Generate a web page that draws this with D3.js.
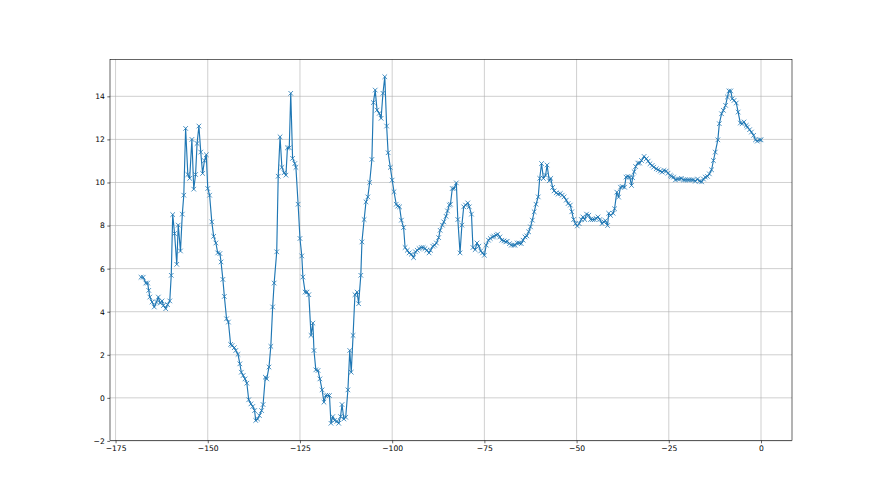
<!DOCTYPE html>
<html>
<head>
<meta charset="utf-8">
<script src="https://cdn.jsdelivr.net/npm/d3@7"></script>
<style>
html,body{margin:0;padding:0;background:#fff;}
svg{display:block;}
</style>
</head>
<body>
<svg id="chart" width="880" height="495"></svg>
<script>
const xValues = [
-168.1,-167.5,-166.8,-166.3,-166.0,-165.7,-165.1,-164.5,-163.9,-163.4,-162.9,-162.4,-162.0,-161.4,-160.9,-160.3,-159.9,-159.5,-159.0,-158.4,
-158.0,-157.4,-156.9,-156.5,-156.0,-155.4,-154.9,-154.3,-153.8,-153.3,-152.9,-152.4,-151.9,-151.4,-150.9,-150.4,-150.0,-149.5,-148.9,-148.4,
-147.8,-147.3,-146.7,-146.4,-145.9,-145.5,-144.9,-144.4,-143.8,-143.4,-142.8,-142.4,-141.8,-141.3,-140.9,-140.4,-139.9,-139.4,-138.9,-138.3,
-137.8,-137.3,-137.0,-136.5,-136.0,-135.4,-135.0,-134.4,-134.0,-133.4,-132.9,-132.4,-132.0,-131.3,-130.9,-130.4,-129.9,-129.3,-128.8,-128.4,
-127.9,-127.5,-127.0,-126.4,
-126.1,-125.5,-125.0,-124.5,-124.2,-123.6,-123.1,-122.6,-122.0,-121.5,-121.2,-120.7,-120.1,-119.6,-119.0,-118.5,-118.0,-117.5,-117.0,-116.6,
-116.1,-115.6,-115.0,-114.5,-114.0,-113.6,-113.1,-112.6,-112.0,-111.5,-111.1,-110.6,-110.1,-109.5,-109.1,-108.5,-108.2,-107.6,-107.1,-106.6,
-106.1,-105.5,-105.1,-104.6,-104.1,-103.5,-103.0,-102.5,-102.0,-101.5,-101.1,-100.5,-100.0,-99.5,-98.9,-98.5,-98.0,-97.5,-96.9,-96.5,
-95.9,-95.4,-94.8,-94.2,-93.7,-93.2,-92.7,-92.1,-91.6,-91.1,-90.6,-90.0,-89.6,-89.0,-88.5,-88.0,-87.4,-87.0,-86.4,-86.0,
-85.4,-85.0,-84.5,
-84.2,-83.7,-83.2,-82.6,-82.2,-81.6,-81.1,-80.6,-80.1,-79.5,-79.1,-78.5,-78.1,-77.5,-77.0,-76.5,-76.0,-75.5,-75.0,-74.5,
-73.9,-73.4,-72.8,-72.4,-71.8,-71.4,-70.8,-70.3,-69.7,-69.2,-68.8,-68.2,-67.7,-67.1,-66.7,-66.1,-65.6,-65.0,-64.5,-64.0,
-63.5,-63.0,-62.5,-62.0,-61.5,-61.0,-60.4,-60.0,-59.5,-59.0,-58.4,-58.0,-57.4,-57.0,-56.5,-56.1,-55.5,-55.0,-54.4,-53.9,
-53.4,-52.8,-52.3,-51.7,-51.3,-50.8,-50.3,-49.8,-49.3,-48.7,-48.3,-47.8,-47.3,-46.7,-46.2,-45.7,-45.2,-44.7,-44.2,-43.7,
-43.1,-42.6,
-42.2,-41.6,-41.3,-40.8,-40.1,-39.7,-39.1,-38.6,-38.1,-37.6,-37.0,-36.6,-36.1,-35.6,-35.1,-34.8,-34.4,-34.0,-33.4,-32.9,
-32.4,-31.7,-31.1,-30.6,-30.1,-29.5,-29.1,-28.4,-27.9,-27.3,-26.8,-26.3,-25.7,-25.2,-24.6,
-24.3,-23.7,-23.2,-22.6,-22.1,-21.6,-21.0,-20.5,-19.9,-19.4,-18.8,-18.3,-17.8,-17.2,-16.7,-16.1,-15.6,-15.1,-14.5,-14.0,
-13.4,-12.9,-12.4,-11.7,-11.3,-10.7,-10.2,-9.6,-9.1,-8.7,-8.2,-7.8,-7.3,-6.7,-6.2,-5.6,-5.1,-4.6,-4.0,-3.7,
-3.1,-2.6,-2.0,-1.5,-1.0,-0.4,0.0
];
const yValues = [
5.60,5.60,5.33,5.33,4.99,4.68,4.45,4.22,4.45,4.68,4.40,4.50,4.29,4.14,4.33,4.50,5.69,8.51,7.63,6.20,
8.02,6.82,8.53,9.41,12.51,10.37,10.19,12.00,9.69,10.37,11.81,12.62,11.41,10.42,11.01,11.29,9.72,9.41,8.17,7.50,
7.19,6.73,6.70,6.31,5.50,4.71,3.67,3.52,2.48,2.43,2.33,2.20,2.02,1.58,1.19,1.04,0.88,0.68,-0.09,-0.28,
-0.40,-0.59,-1.05,-0.98,-0.82,-0.59,-0.31,0.96,0.88,1.43,2.39,4.22,5.33,6.78,10.29,12.12,10.70,10.45,10.34,11.61,
11.61,14.14,11.12,10.88,
10.70,8.99,7.40,6.59,5.61,4.91,4.91,4.79,2.90,3.47,2.20,1.30,1.27,0.88,0.37,-0.20,0.11,0.11,0.11,-1.18,
-0.87,-1.05,-1.09,-1.18,-0.87,-0.31,-0.98,-0.90,0.37,2.20,1.19,2.90,4.79,4.91,4.37,5.69,7.24,8.28,9.10,9.33,
10.00,11.07,13.71,14.29,13.36,13.21,12.98,14.14,14.91,12.62,11.38,10.70,10.11,9.57,8.99,8.90,8.87,8.25,7.91,6.98,
6.85,6.73,6.67,6.51,6.78,6.85,6.93,6.98,6.98,6.93,6.85,6.73,6.85,7.04,7.09,7.19,7.44,7.78,8.02,8.17,
8.43,8.68,8.95,
8.99,9.72,9.72,9.98,8.28,6.73,8.02,8.87,8.95,9.05,8.87,8.53,6.98,6.88,7.19,7.04,6.82,6.73,6.62,7.09,
7.32,7.40,7.47,7.50,7.55,7.60,7.47,7.32,7.29,7.24,7.27,7.16,7.09,7.09,7.09,7.19,7.19,7.16,7.32,7.47,
7.52,7.71,7.94,8.25,8.64,8.99,9.33,10.19,10.88,10.19,10.34,10.81,10.08,10.19,9.77,9.61,9.52,9.46,9.49,9.41,
9.33,9.18,9.02,8.95,8.64,8.28,8.09,7.98,8.09,8.28,8.40,8.28,8.53,8.48,8.28,8.28,8.28,8.33,8.40,8.28,
8.09,8.17,
8.23,8.00,8.57,8.47,8.57,8.78,9.55,9.32,9.78,9.81,9.78,10.25,10.28,10.25,9.86,10.22,10.50,10.74,10.90,10.90,
11.02,11.21,11.10,10.99,10.87,10.79,10.71,10.64,10.59,10.53,10.48,10.56,10.53,10.43,10.33,
10.28,10.25,10.12,10.16,10.16,10.19,10.12,10.12,10.12,10.12,10.12,10.12,10.06,10.16,10.06,10.03,10.16,10.25,10.28,10.40,
10.59,11.02,11.41,11.98,12.73,13.19,13.35,13.58,13.97,14.25,14.25,13.89,13.81,13.69,13.27,12.76,12.73,12.81,12.65,12.57,
12.45,12.34,12.19,11.98,11.92,11.98,11.98
];
const xTicks = [-175,-150,-125,-100,-75,-50,-25,0];
const yTicks = [-2,0,2,4,6,8,10,12,14];

const data = xValues.map((x,i)=>({x:x, y:yValues[i]}));

const W = 880, H = 495;
const m = {left:110, right:792, top:59.4, bottom:440.6};
const svg = d3.select("#chart");

const xExt = d3.extent(xValues), yExt = d3.extent(yValues);
const xPad = (xExt[1]-xExt[0])*0.05, yPad = (yExt[1]-yExt[0])*0.05;
const x = d3.scaleLinear().domain([xExt[0]-xPad, xExt[1]+xPad]).range([m.left, m.right]);
const y = d3.scaleLinear().domain([yExt[0]-yPad, yExt[1]+yPad]).range([m.bottom, m.top]);

// grid
const grid = svg.append("g");
grid.selectAll("line.vx").data(xTicks).enter().append("line")
  .attr("x1", d=>x(d)).attr("x2", d=>x(d)).attr("y1", m.top).attr("y2", m.bottom)
  .attr("stroke", "#b0b0b0").attr("stroke-width", 0.6);
grid.selectAll("line.hy").data(yTicks).enter().append("line")
  .attr("y1", d=>y(d)).attr("y2", d=>y(d)).attr("x1", m.left).attr("x2", m.right)
  .attr("stroke", "#b0b0b0").attr("stroke-width", 0.6);

// line
const line = d3.line().x(d=>x(d.x)).y(d=>y(d.y));
svg.append("path").datum(data).attr("d", line)
  .attr("fill", "none").attr("stroke", "#1f77b4").attr("stroke-width", 1.15)
  .attr("stroke-linejoin", "round").attr("stroke-linecap", "square");

// markers
const s = 2.3;
svg.append("g").selectAll("path").data(data).enter().append("path")
  .attr("transform", d=>`translate(${x(d.x)},${y(d.y)})`)
  .attr("d", `M${-s},${-s}L${s},${s}M${-s},${s}L${s},${-s}`)
  .attr("stroke", "#1f77b4").attr("stroke-width", 0.8).attr("fill", "none");

// axes
const fmt = d3.format("d");
const xAxis = d3.axisBottom(x).tickValues(xTicks).tickSize(2.7).tickPadding(2.5).tickFormat(d=>fmt(d));
const yAxis = d3.axisLeft(y).tickValues(yTicks).tickSize(2.7).tickPadding(2.5).tickFormat(d=>fmt(d));
const gx = svg.append("g").attr("transform", `translate(0,${m.bottom})`).call(xAxis);
const gy = svg.append("g").attr("transform", `translate(${m.left},0)`).call(yAxis);
[gx, gy].forEach(g=>{
  g.select(".domain").remove();
  g.selectAll(".tick line").attr("stroke", "#000").attr("stroke-width", 0.6);
  g.selectAll(".tick text").attr("fill", "#000").style("font-family", "DejaVu Sans").style("font-size", "7.6px");
});

// spines
svg.append("rect").attr("x", m.left).attr("y", m.top)
  .attr("width", m.right-m.left).attr("height", m.bottom-m.top)
  .attr("fill", "none").attr("stroke", "#000").attr("stroke-width", 0.6);
</script>
</body>
</html>
